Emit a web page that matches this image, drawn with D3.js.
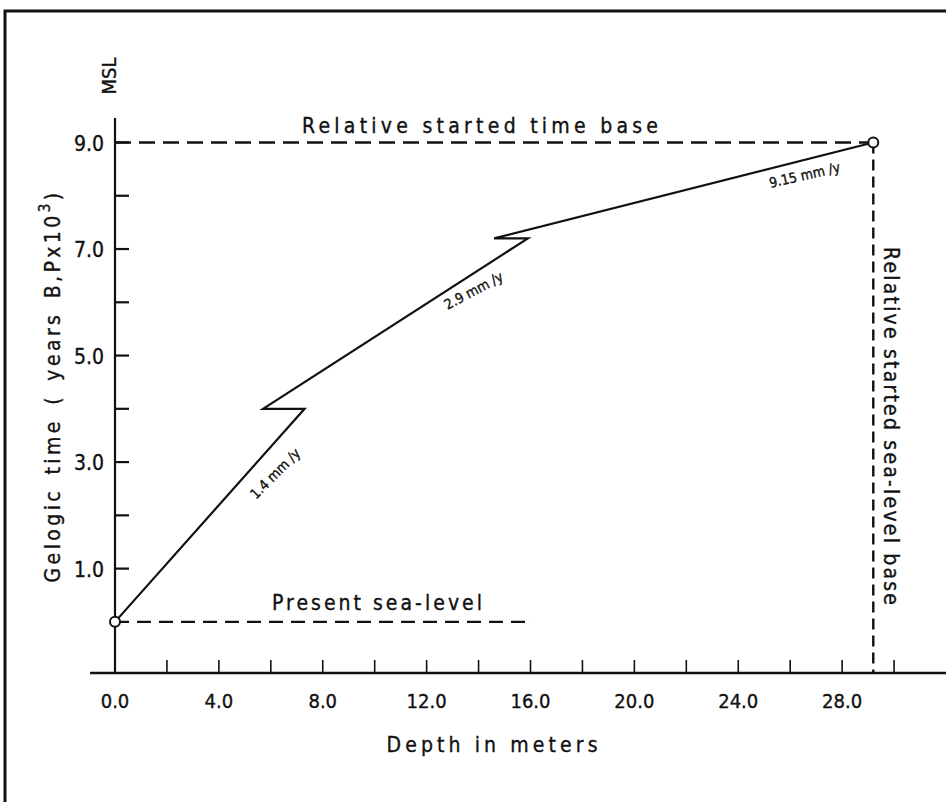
<!DOCTYPE html>
<html>
<head>
<meta charset="utf-8">
<script src="https://cdn.jsdelivr.net/npm/d3@7"></script>
<style>
  body { margin: 0; background: #fff; }
  svg text { font-family: "DejaVu Sans Condensed", "DejaVu Sans", sans-serif; fill: #111; stroke: #111; stroke-width: 0.35; }
</style>
</head>
<body>
<div id="chart"></div>
<script>
// depth (m) vs geologic time (kyr BP) -- the zigzag curve
var depth = [0, 7.3, 5.7, 15.9, 14.6, 29.2];
var time  = [0, 4.0, 4.0, 7.2, 7.2, 9.0];

var xTickLabels = ["0.0", "4.0", "8.0", "12.0", "16.0", "20.0", "24.0", "28.0"];
var xTickValues = [0, 4, 8, 12, 16, 20, 24, 28];
var yTickLabels = ["1.0", "3.0", "5.0", "7.0", "9.0"];
var yTickValues = [1, 3, 5, 7, 9];

// rate annotations: text, depth, time, angle
var rateText  = ["1.4 mm /y", "2.9 mm /y", "9.15 mm /y"];
var rateDepth = [6.3, 13.9, 26.6];
var rateTime  = [2.72, 6.14, 8.3];
var rateAngle = [-45, -28, -13];

var width = 946,
    height = 802;

var svg = d3.select("#chart")
    .append("svg")
    .attr("width", width)
    .attr("height", height)

// scales
var x = d3.scaleLinear().domain([0, 32]).range([115, 946])
var y = d3.scaleLinear().domain([-0.96, 9.46]).range([673, 118])

// page frame (top and left edge of the scanned sheet)
svg.append("path")
    .attr("d", "M5,802 V11 H946")
    .attr("fill", "none")
    .attr("stroke", "#111")
    .attr("stroke-width", 3)

// x axis: line + small ticks every 2 m pointing up
svg.append("line")
    .attr("x1", x(-0.96)).attr("x2", width)
    .attr("y1", y(-0.96)).attr("y2", y(-0.96))
    .attr("stroke", "#111").attr("stroke-width", 2.4)

svg.selectAll(".xtick")
    .data(d3.range(2, 31, 2))
    .enter().append("line")
    .attr("class", "xtick")
    .attr("x1", function(d) { return x(d) })
    .attr("x2", function(d) { return x(d) })
    .attr("y1", y(-0.96))
    .attr("y2", y(-0.96) - 13)
    .attr("stroke", "#111").attr("stroke-width", 1.6)

svg.selectAll(".xlabel")
    .data(xTickValues)
    .enter().append("text")
    .attr("class", "xlabel")
    .attr("x", function(d) { return x(d) })
    .attr("y", 708)
    .attr("text-anchor", "middle")
    .attr("font-size", 20)
    .text(function(d, i) { return xTickLabels[i] })

svg.append("text")
    .attr("x", 492).attr("y", 752)
    .attr("text-anchor", "middle")
    .attr("font-size", 21)
    .attr("textLength", 211)
    .attr("lengthAdjust", "spacing")
    .text("Depth in meters")

// y axis: line + ticks every 1 unit pointing right
svg.append("line")
    .attr("x1", x(0)).attr("x2", x(0))
    .attr("y1", y(9.46)).attr("y2", y(-0.96))
    .attr("stroke", "#111").attr("stroke-width", 2.2)

svg.selectAll(".ytick")
    .data(d3.range(1, 10))
    .enter().append("line")
    .attr("class", "ytick")
    .attr("x1", x(0))
    .attr("x2", x(0) + 14)
    .attr("y1", function(d) { return y(d) })
    .attr("y2", function(d) { return y(d) })
    .attr("stroke", "#111").attr("stroke-width", 2.2)

svg.selectAll(".ylabel")
    .data(yTickValues)
    .enter().append("text")
    .attr("class", "ylabel")
    .attr("x", 104)
    .attr("y", function(d) { return y(d) + 8 })
    .attr("text-anchor", "end")
    .attr("font-size", 21)
    .text(function(d, i) { return yTickLabels[i] })

// y title (rotated) with superscript
var ytitle = svg.append("text")
    .attr("transform", "translate(60,386) rotate(-90)")
    .attr("text-anchor", "middle")
    .attr("font-size", 21)
    .attr("letter-spacing", 3.4)
    .attr("word-spacing", 4)
ytitle.append("tspan").text("Gelogic time ( years B,Px10")
ytitle.append("tspan").attr("dy", -10).attr("font-size", 15).text("3")
ytitle.append("tspan").attr("dy", 10).text(")")

svg.append("text")
    .attr("transform", "translate(116,76) rotate(-90)")
    .attr("text-anchor", "middle")
    .attr("font-size", 20)
    .text("MSL")

// dashed reference lines
svg.append("line")
    .attr("x1", x(0)).attr("x2", x(depth[5]))
    .attr("y1", y(9)).attr("y2", y(9))
    .attr("stroke", "#111").attr("stroke-width", 2.4)
    .attr("stroke-dasharray", "16,8")

svg.append("line")
    .attr("x1", x(depth[5])).attr("x2", x(depth[5]))
    .attr("y1", y(9)).attr("y2", y(-0.96))
    .attr("stroke", "#111").attr("stroke-width", 2.4)
    .attr("stroke-dasharray", "11,6")

svg.append("line")
    .attr("x1", x(0)).attr("x2", x(16.1))
    .attr("y1", y(0)).attr("y2", y(0))
    .attr("stroke", "#111").attr("stroke-width", 2.4)
    .attr("stroke-dasharray", "14,8")

svg.append("text")
    .attr("x", 480).attr("y", 133)
    .attr("text-anchor", "middle")
    .attr("font-size", 21)
    .attr("textLength", 356)
    .attr("lengthAdjust", "spacing")
    .text("Relative started time base")

svg.append("text")
    .attr("x", 377).attr("y", 610)
    .attr("text-anchor", "middle")
    .attr("font-size", 21)
    .attr("textLength", 210)
    .attr("lengthAdjust", "spacing")
    .text("Present sea-level")

svg.append("text")
    .attr("transform", "translate(884,426) rotate(90)")
    .attr("text-anchor", "middle")
    .attr("font-size", 21)
    .attr("textLength", 358)
    .attr("lengthAdjust", "spacing")
    .text("Relative started sea-level base")

// the curve
var line = d3.line()
    .x(function(d) { return x(d[0]) })
    .y(function(d) { return y(d[1]) })

svg.append("path")
    .datum(d3.zip(depth, time))
    .attr("d", line)
    .attr("fill", "none")
    .attr("stroke", "#111")
    .attr("stroke-width", 2.2)
    .attr("stroke-linejoin", "miter")

// end point circles
svg.selectAll(".endpt")
    .data([0, depth.length - 1])
    .enter().append("circle")
    .attr("class", "endpt")
    .attr("cx", function(i) { return x(depth[i]) })
    .attr("cy", function(i) { return y(time[i]) })
    .attr("r", 5)
    .attr("fill", "#fff")
    .attr("stroke", "#111")
    .attr("stroke-width", 2)

// rate labels along the segments
svg.selectAll(".rate")
    .data(rateText)
    .enter().append("text")
    .attr("class", "rate")
    .attr("transform", function(d, i) {
        return "translate(" + x(rateDepth[i]) + "," + y(rateTime[i]) + ") rotate(" + rateAngle[i] + ")"
    })
    .attr("text-anchor", "middle")
    .attr("font-size", 14)
    .text(function(d) { return d })
</script>
</body>
</html>
